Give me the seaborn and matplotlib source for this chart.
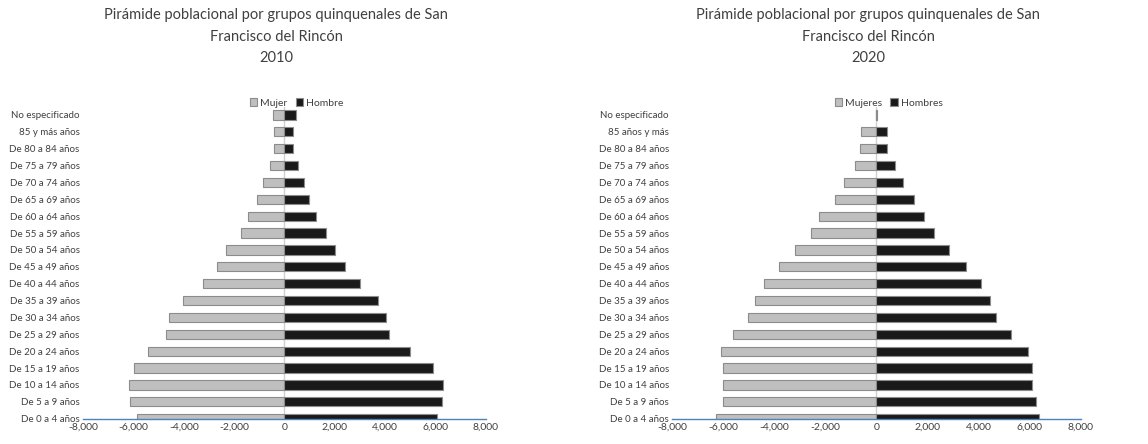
import numpy as np
import pandas as pd
import seaborn as sns
import matplotlib
matplotlib.use('Agg')
import matplotlib.pyplot as plt
from matplotlib.ticker import FuncFormatter

# age groups, top to bottom as in the chart
grupos_2010 = ['No especificado', '85 y más años', 'De 80 a 84 años', 'De 75 a 79 años',
               'De 70 a 74 años', 'De 65 a 69 años', 'De 60 a 64 años', 'De 55 a 59 años',
               'De 50 a 54 años', 'De 45 a 49 años', 'De 40 a 44 años', 'De 35 a 39 años',
               'De 30 a 34 años', 'De 25 a 29 años', 'De 20 a 24 años', 'De 15 a 19 años',
               'De 10 a 14 años', 'De 5 a 9 años', 'De 0 a 4 años']
grupos_2020 = ['No especificado', '85 años y más'] + grupos_2010[2:]

mujeres_2010 = [450, 420, 420, 580, 870, 1080, 1450, 1745, 2315, 2660,
                3250, 4020, 4600, 4720, 5430, 5975, 6175, 6150, 5845]
hombres_2010 = [475, 345, 345, 555, 765, 965, 1270, 1665, 1995, 2405,
                2990, 3730, 4045, 4150, 4970, 5895, 6295, 6255, 6070]

mujeres_2020 = [15, 590, 625, 825, 1255, 1620, 2245, 2560, 3200, 3815,
                4415, 4765, 5015, 5615, 6110, 6010, 6010, 6010, 6270]
hombres_2020 = [15, 420, 430, 745, 1060, 1475, 1880, 2245, 2845, 3500,
                4100, 4455, 4675, 5275, 5955, 6110, 6110, 6245, 6360]

ticks_x = [-8000, -6000, -4000, -2000, 0, 2000, 4000, 6000, 8000]

GRIS = '#bfbfbf'
NEGRO = '#1a1a1a'
BORDE = '#8c8c8c'
AZUL = '#4f81bd'
FUENTE = ['Lato', 'DejaVu Sans']

sns.set_style('white')
plt.rcParams['font.family'] = FUENTE
plt.rcParams['text.color'] = '#404040'


def piramide(ax, grupos, mujeres, hombres, etiquetas, anio):
    df = pd.DataFrame({
        'grupo': grupos * 2,
        'valor': [-v for v in mujeres] + hombres,
        'sexo': [etiquetas[0]] * len(grupos) + [etiquetas[1]] * len(grupos),
    })
    sns.barplot(data=df, x='valor', y='grupo', hue='sexo', order=grupos,
                palette=[GRIS, NEGRO], dodge=False, width=0.55, orient='h',
                edgecolor=BORDE, linewidth=0.8, ax=ax)
    ax.set_xlim(-8000, 8000)
    ax.set_ylim(len(grupos) - 1, -0.47)
    ax.set_xticks(ticks_x)
    ax.xaxis.set_major_formatter(FuncFormatter(lambda v, p: f'{int(v):,}'.replace('\u2212', '-')))
    ax.set_xlabel('')
    ax.set_ylabel('')
    ax.axvline(0, color='#d0d0d0', lw=1, zorder=0.5)
    for s in ['top', 'right', 'left']:
        ax.spines[s].set_visible(False)
    ax.spines['bottom'].set_color(AZUL)
    ax.spines['bottom'].set_linewidth(1)
    ax.spines['bottom'].set_zorder(5)
    ax.tick_params(axis='x', direction='inout', length=4, color=AZUL, labelsize=7.5,
                   labelcolor='#404040', pad=1)
    ax.tick_params(axis='y', length=0, labelsize=7, labelcolor='#404040', pad=2.5)
    ax.legend(ncol=2, loc='lower center', bbox_to_anchor=(0.53, 0.985), frameon=False,
              fontsize=7.5, handlelength=0.7, handleheight=0.7, handletextpad=0.3,
              columnspacing=0.8, borderaxespad=0)
    bb = ax.get_position()
    fig.text(bb.x0 + bb.width * 0.48, 0.982,
             'Pirámide poblacional por grupos quinquenales de San\nFrancisco del Rincón\n' + anio,
             ha='center', va='top', fontsize=10.5, linespacing=1.7, color='#404040')


fig = plt.figure(figsize=(11.48, 4.44), dpi=100)
ax1 = fig.add_axes([0.0723, 0.057, 0.351, 0.702])
ax2 = fig.add_axes([0.5856, 0.057, 0.3557, 0.702])

piramide(ax1, grupos_2010, mujeres_2010, hombres_2010, ['Mujer', 'Hombre'], '2010')
piramide(ax2, grupos_2020, mujeres_2020, hombres_2020, ['Mujeres', 'Hombres'], '2020')

fig.savefig('out.png', dpi=100)
